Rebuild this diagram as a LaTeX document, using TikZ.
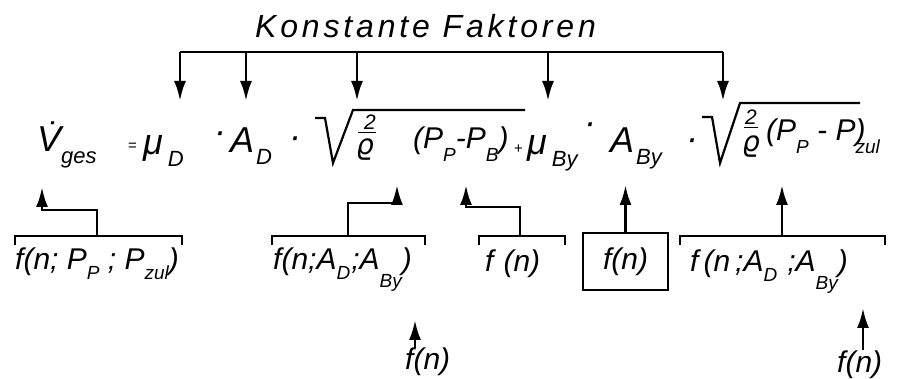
\documentclass[tikz,border=0pt]{standalone}
\usepackage{fontspec}
\setmainfont{Liberation Sans}
\newfontfamily\rhofont{DejaVu Sans}
\usetikzlibrary{arrows.meta}

\newcommand\subs[1]{\raisebox{-12pt}{\fontsize{22}{22}\selectfont #1}}
\newcommand\subq[1]{\raisebox{-13pt}{\fontsize{19}{19}\selectfont #1}}
\newcommand\subl[1]{\raisebox{-10pt}{\fontsize{19}{19}\selectfont #1}}
\newcommand\subll[1]{\raisebox{-18pt}{\fontsize{19}{19}\selectfont #1}}

\begin{document}
\begin{tikzpicture}[x=1pt, y=-1pt,
  eq/.style={inner sep=0pt, anchor=base west, font=\itshape\fontsize{36}{40}\selectfont},
  eqs/.style={eq, font=\itshape\fontsize{30}{34}\selectfont},
  sym/.style={eq, font=\fontsize{15}{16}\selectfont},
  num/.style={eq, font=\itshape\fontsize{21}{22}\selectfont},
  rho/.style={eq, font=\rhofont\itshape\fontsize{28}{30}\selectfont},
  tit/.style={inner sep=0pt, anchor=base west,
    font=\itshape\fontsize{32}{36}\selectfont\addfontfeature{LetterSpace=12}},
  lab/.style={inner sep=0pt, anchor=base west,
    font=\itshape\fontsize{30}{34}\selectfont},
  fbox/.style={lab, anchor=center, draw, line width=1.8pt,
    minimum width=85pt, minimum height=57pt},
  arr/.style={-{Latex[length=20pt,width=12pt]}, line width=2.8pt},
  brk/.style={line width=2.2pt},
  rad/.style={line width=2.2pt, line join=miter}
]
\useasboundingbox (0,0) rectangle (897,379);

% Title and its bar
\node[tit] (kf) at (255,38) {Konstante Faktoren};
\coordinate (k1) at (180,52);  \coordinate (h1) at (180,101);
\coordinate (k2) at (246,52);  \coordinate (h2) at (246,101);
\coordinate (k3) at (357,52);  \coordinate (h3) at (357,101);
\coordinate (k4) at (548,52);  \coordinate (h4) at (548,101);
\coordinate (k5) at (723,52);  \coordinate (h5) at (723,101);
\draw[brk] (k1) -- (k5);
\draw[arr] (k1) -- (h1);
\draw[arr] (k2) -- (h2);
\draw[arr] (k3) -- (h3);
\draw[arr] (k4) -- (h4);
\draw[arr] (k5) -- (h5);

% Formula
\node[eq] (vges) at (37,152) {\.V\subs{ges}};
\node[sym] (eqsign) at (128,151) {=};
\node[eq] (muD) at (143,155) {μ\kern5pt\subs{D}};
\node[eq] (dot1) at (214,144) {·};
\node[eq] (AD) at (230,153) {A\kern2pt\subs{D}};
\node[eq] (dot2) at (289,149) {·};
\draw[rad] (315,118) -- (325,118) -- (333,163) -- (353,110) -- (525,110);
\node[num] (two1) at (364,130) {2};
\draw[line width=1pt] (358,133) -- (376,133);
\node[rho] (rho1) at (356,155) {ϱ};
\node[eqs] (pp1) at (413,149) {(P\subq{P}-P\subq{B})};
\node[sym] (plus) at (514,154) {+};
\node[eq] (muB) at (527,155) {μ\kern5pt\subs{By}};
\node[eq] (dot3) at (584,135) {·};
\node[eq] (ABy) at (610,153) {A\kern2pt\subs{By}};
\node[eq] (dot4) at (686,151) {·};
\draw[rad] (702,117) -- (712,117) -- (720,163) -- (740,103) -- (860,103);
\node[num] (two2) at (745,125) {2};
\draw[line width=1pt] (744,128) -- (758,128);
\node[rho] (rho2) at (742,152) {ϱ};
\node[eqs] (pp2) at (766,141) {(P\subq{P} - P\rlap{)}\subq{zul}};

% Lower functions
\node[lab] (fv) at (15,270) {f(n; P\subl{P} ; P\subl{zul})};
\node[lab] (fa1) at (273,270) {f(n;A\subl{D}\kern1pt;A\subll{By})};
\node[lab] (fb) at (485,272) {f\,\,(n)};
\node[fbox] (fm) at (625.5,261.5) {f(n)};
\node[lab] (fa2) at (690,272) {f\,(n\,;A\subl{D}\,\,;A\subll{By})};
\node[lab] (fn1) at (405,370) {f(n)};
\node[lab] (fn2) at (837,372) {f(n)};

% Brackets
\coordinate (b1l) at (15,236);  \coordinate (b1r) at (182,236); \coordinate (b1m) at (97,236);
\coordinate (b2l) at (272,236); \coordinate (b2r) at (425,236); \coordinate (b2m) at (348,236);
\coordinate (b3l) at (479,236); \coordinate (b3r) at (565,236); \coordinate (b3m) at (520,236);
\coordinate (b5l) at (680,236); \coordinate (b5r) at (885,236); \coordinate (b5m) at (782,236);
\draw[brk] (b1l) ++(0,9) -- (b1l) -- (b1r) -- ++(0,9);
\draw[brk] (b2l) ++(0,9) -- (b2l) -- (b2r) -- ++(0,9);
\draw[brk] (b3l) ++(0,9) -- (b3l) -- (b3r) -- ++(0,9);
\draw[brk] (b5l) ++(0,9) -- (b5l) -- (b5r) -- ++(0,9);

% Upward arrows
\coordinate (j1) at (42,210);  \coordinate (t1) at (42,187);
\coordinate (j2) at (397,203); \coordinate (t2) at (397,185);
\coordinate (j3) at (466,207); \coordinate (t3) at (466,185);
\coordinate (t4) at (625.5,185);
\coordinate (t5) at (782,185);
\draw[arr] (b1m) |- (j1) -- (t1);
\draw[arr] (b2m) |- (j2) -- (t2);
\draw[arr] (b3m) |- (j3) -- (t3);
\draw[arr] (fm.north) -- (t4);
\draw[arr] (b5m) -- (t5);
\coordinate (t6) at (415,320);
\coordinate (t7) at (863,308);
\draw[arr] (fn1.north -| t6) -- (t6);
\draw[arr] (fn2.north -| t7) -- (t7);

\end{tikzpicture}
\end{document}
